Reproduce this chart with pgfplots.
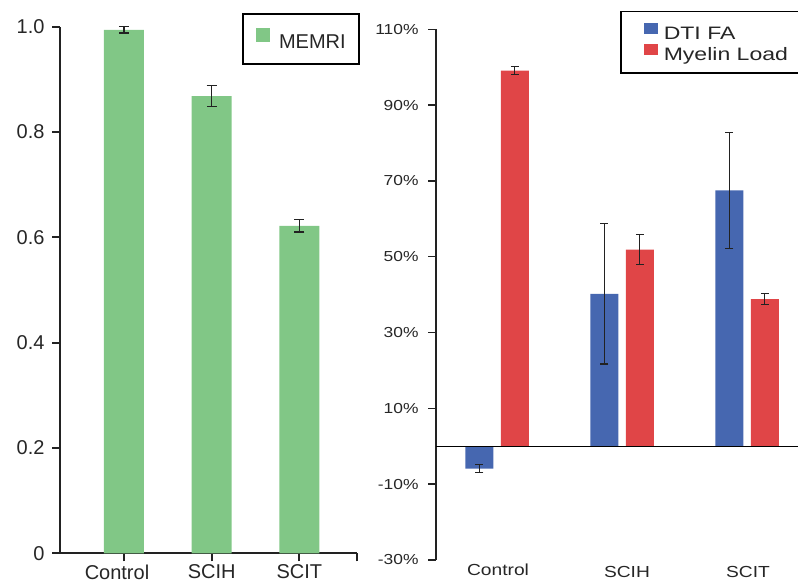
\documentclass[border=0pt]{standalone}
\usepackage{pgfplots}
\pgfplotsset{compat=1.18}
\usepackage{fontspec}
\setmainfont{Liberation Sans}
\usepackage{graphicx}
\definecolor{memri}{RGB}{129,199,134}
\definecolor{dti}{RGB}{70,103,176}
\definecolor{mye}{RGB}{224,69,71}
\definecolor{axc}{RGB}{34,34,34}
\newcommand\sx[1]{\scalebox{1.2}[1]{#1}}
\newcommand\sxl[1]{\scalebox{1.28}[1]{#1}}

\begin{document}
\begin{tikzpicture}
\useasboundingbox (0,0) rectangle (798bp,584bp);
% ---------------- left panel ----------------
\begin{axis}[
  at={(60bp,30.7bp)}, anchor=south west,
  scale only axis, width=297bp, height=526.6bp,
  xmin=-0.73, xmax=2.658, ymin=0, ymax=1,
  clip=false,
  axis x line*=bottom, axis y line*=left,
  axis line style={axc, line width=2bp},
  xtick={0,1,2}, xticklabels={\hbox{\kern-14bp Control},SCIH,SCIT},
  extra x ticks={2.658}, extra x tick labels={},
  ytick={0,0.2,0.4,0.6,0.8,1}, yticklabels={0,0.2,0.4,0.6,0.8,1.0},
  tick align=outside, major tick length=8bp,
  tick style={axc, line width=2bp},
  tick label style={font=\fontsize{20bp}{24bp}\selectfont, text=black!85},
  yticklabel style={xshift=-4bp},
  legend style={at={(0.613,1.026)}, anchor=north west, draw=black, line width=2bp,
    fill=white, font=\fontsize{20bp}{24bp}\selectfont, text=black!85,
    inner xsep=13bp, inner ysep=14bp, nodes={inner sep=0bp}, column sep=9bp},
  legend image code/.code={\fill[#1] (0bp,0bp) rectangle (14bp,14bp);},
]
\addplot[ybar, bar width=40bp, fill=memri, draw=none,
  error bars/.cd, y dir=both, y explicit,
  error bar style={axc, line width=1.3bp},
  error mark options={rotate=90, mark size=5bp, axc, line width=1.3bp}]
  coordinates {(0,0.994) +- (0,0.006) (1,0.868) +- (0,0.020) (2,0.622) +- (0,0.012)};
\addlegendentry{MEMRI}
\end{axis}
% ---------------- right panel ----------------
\begin{axis}[
  at={(436bp,24bp)}, anchor=south west,
  scale only axis, width=374bp, height=530.7bp,
  xmin=-0.488, xmax=2.504, ymin=-30, ymax=110,
  clip=false,
  axis x line*=bottom, axis y line*=left,
  x axis line style={draw=none},
  y axis line style={axc, line width=1.5bp},
  xtick={0.008,1.04,2.008},
  xticklabels={\sx{Control},\sx{\raisebox{-3bp}[\height]{SCIH}},\sx{\raisebox{-3bp}[\height]{SCIT}}},
  xtick style={draw=none},
  ytick={-30,-10,10,30,50,70,90,110},
  yticklabels={\sx{-30\%},\sx{-10\%},\sx{10\%},\sx{30\%},\sx{50\%},\sx{70\%},\sx{90\%},\sx{110\%}},
  tick align=outside, major tick length=8bp,
  ytick style={axc, line width=1.5bp},
  xticklabel style={font=\fontsize{16bp}{19bp}\selectfont, text=black!85, yshift=8bp},
  yticklabel style={font=\fontsize{14.5bp}{17bp}\selectfont, text=black!85, xshift=-6bp},
  legend style={at={(0.492,1.0345)}, anchor=north west, draw=black, line width=1.5bp,
    fill=white, font=\fontsize{18bp}{21bp}\selectfont, text=black!85,
    inner xsep=23bp, inner ysep=11bp, nodes={inner sep=0bp}, column sep=6bp, row sep=3.3bp},
  legend cell align=left,
  legend image code/.code={\fill[#1] (0bp,0bp) rectangle (14bp,11bp);},
]
\addplot[ybar, bar width=28bp, bar shift=0bp, fill=dti, draw=none,
  error bars/.cd, y dir=both, y explicit,
  error bar style={axc, line width=1.2bp},
  error mark options={rotate=90, mark size=4bp, axc, line width=1.2bp}]
  coordinates {(-0.142,-5.9) +- (0,1.0) (0.858,40.2) +- (0,18.5) (1.858,67.5) +- (0,15.3)};
\addlegendentry{\sxl{DTI FA}}
\addplot[ybar, bar width=28bp, bar shift=0bp, fill=mye, draw=none,
  error bars/.cd, y dir=both, y explicit,
  error bar style={axc, line width=1.2bp},
  error mark options={rotate=90, mark size=4bp, axc, line width=1.2bp}]
  coordinates {(0.142,99.1) +- (0,1.0) (1.142,51.9) +- (0,4.0) (2.142,38.8) +- (0,1.5)};
\addlegendentry{\sxl{Myelin Load}}
\addplot[black, line width=1.2bp, forget plot] coordinates {(-0.488,0) (2.6,0)};
\end{axis}
\end{tikzpicture}
\end{document}
